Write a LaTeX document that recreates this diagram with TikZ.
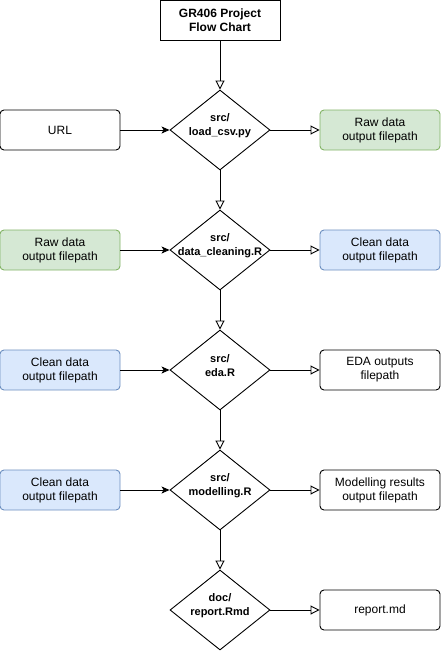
\documentclass[tikz,border=0pt]{standalone}
\usepackage{fontspec}
\setmainfont{Liberation Sans}
\usetikzlibrary{positioning, arrows.meta}
\usetikzlibrary{shapes.geometric}
\definecolor{rawfill}{HTML}{D5E8D4}
\definecolor{rawline}{HTML}{82B366}
\definecolor{cleanfill}{HTML}{DAE8FC}
\definecolor{cleanline}{HTML}{6C8EBF}
\tikzset{
    box/.style={draw, rounded corners=4pt, minimum width=120pt, minimum height=40pt, inner sep=0pt, align=center, font=\fontsize{12}{14}\selectfont},
    rawbox/.style={box, draw=rawline, fill=rawfill},
    cleanbox/.style={box, draw=cleanline, fill=cleanfill},
    script/.style={draw, diamond, minimum width=100pt, minimum height=80pt, inner sep=0pt},
    scripttext/.style={align=center, yshift=4pt, font=\fontsize{11}{14}\selectfont\bfseries},
    openarrow/.style={-{Triangle[open, length=9pt, width=9pt]}},
    fedarrow/.style={-{Stealth[length=8pt, width=7pt, inset=2pt]}},
  }

\begin{document}
\begin{tikzpicture}[x=1pt, y=-1pt, line width=0.9pt]
	\useasboundingbox (0,0) rectangle (441,651);
	\pgfmathsetmacro\mid{220}
	\pgfmathsetmacro\inx{60}
	\pgfmathsetmacro\outx{380}

	\node[box, rounded corners=0pt, font=\fontsize{12}{14}\selectfont\bfseries] (title) at (\mid,20) {GR406 Project\\Flow Chart};

	% scripts
	\node[script, label={[scripttext]center:src/\\load\_csv.py}] (load) at (\mid,130) {};
	\node[script, label={[scripttext]center:src/\\data\_cleaning.R}] (clean) at (\mid,250) {};
	\node[script, label={[scripttext]center:src/\\eda.R}] (eda) at (\mid,370) {};
	\node[script, label={[scripttext]center:src/\\modelling.R}] (model) at (\mid,490) {};
	\node[script, label={[scripttext]center:doc/\\report.Rmd}] (report) at (\mid,610) {};

	% inputs
	\node[box] (url) at (\inx,130) {URL};
	\node[rawbox] (rawin) at (\inx,250) {Raw data\\output filepath};
	\node[cleanbox] (cleanin) at (\inx,370) {Clean data\\output filepath};
	\node[cleanbox] (cleanmod) at (\inx,490) {Clean data\\output filepath};

	% outputs
	\node[rawbox] (rawout) at (\outx,130) {Raw data\\output filepath};
	\node[cleanbox] (cleanout) at (\outx,250) {Clean data\\output filepath};
	\node[box] (edaout) at (\outx,370) {EDA outputs\\filepath};
	\node[box] (modelout) at (\outx,490) {Modelling results\\output filepath};
	\node[box] (reportout) at (\outx,610) {report.md};

	\foreach \a/\b in {title/load, load/clean, clean/eda, eda/model, model/report}{
		\draw[openarrow] (\a) -- (\b);
	}
	\foreach \a/\b in {url/load, rawin/clean, cleanin/eda, cleanmod/model}{
		\draw[fedarrow] (\a) -- (\b);
	}
	\foreach \a/\b in {load/rawout, clean/cleanout, eda/edaout, model/modelout, report/reportout}{
		\draw[openarrow] (\a) -- (\b);
	}
\end{tikzpicture}
\end{document}
